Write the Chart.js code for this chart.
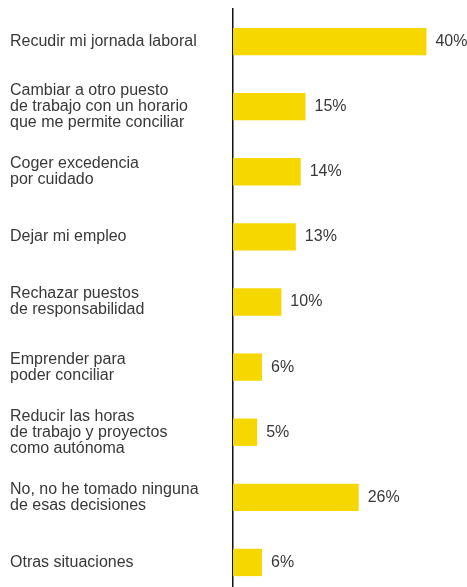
<!DOCTYPE html>
<html>
<head>
<meta charset="utf-8">
<script src="https://cdn.jsdelivr.net/npm/chart.js@4/dist/chart.umd.min.js"></script>
<style>
  html, body { margin: 0; padding: 0; background: #fff; overflow: hidden; }
  canvas { display: block; }
</style>
</head>
<body>
<canvas id="barChart" width="467" height="603"></canvas>
<script>
// Data
const categories = [
    ['Recudir mi jornada laboral'],
    ['Cambiar a otro puesto', 'de trabajo con un horario', 'que me permite conciliar'],
    ['Coger excedencia', 'por cuidado'],
    ['Dejar mi empleo'],
    ['Rechazar puestos', 'de responsabilidad'],
    ['Emprender para', 'poder conciliar'],
    ['Reducir las horas', 'de trabajo y proyectos', 'como autónoma'],
    ['No, no he tomado ninguna', 'de esas decisiones'],
    ['Otras situaciones']
];
const values = [40, 15, 14, 13, 10, 6, 5, 26, 6];

const textColor = '#383838';
const labelFont = { family: "'Liberation Sans', Arial, sans-serif", size: 16 };

// Value labels at the end of each bar
const valueLabels = {
    id: 'valueLabels',
    afterDatasetsDraw(chart) {
        const ctx = chart.ctx;
        const meta = chart.getDatasetMeta(0);
        ctx.save();
        ctx.fillStyle = textColor;
        ctx.font = labelFont.size + 'px ' + labelFont.family;
        ctx.textAlign = 'left';
        ctx.textBaseline = 'middle';
        meta.data.forEach((bar, i) => {
            ctx.fillText(values[i] + '%', bar.x + 9, bar.y);
        });
        ctx.restore();
    }
};

const ctx = document.getElementById('barChart').getContext('2d');
const barChart = new Chart(ctx, {
    type: 'bar',
    data: {
        labels: categories,
        datasets: [{
            data: values,
            backgroundColor: '#f6d800',
            categoryPercentage: 1,
            barPercentage: 0.42
        }]
    },
    options: {
        indexAxis: 'y',
        responsive: false,
        animation: false,
        devicePixelRatio: 1,
        layout: { padding: { left: 10, right: 14, top: 9, bottom: 0 } },
        plugins: {
            legend: { display: false },
            tooltip: { enabled: false }
        },
        scales: {
            x: {
                display: false,
                min: 0,
                max: 45.5
            },
            y: {
                grid: { display: false },
                border: { display: true, color: '#111', width: 1.5 },
                ticks: {
                    crossAlign: 'far',
                    color: textColor,
                    font: { ...labelFont, lineHeight: 1.0 },
                    padding: 0
                },
                afterFit(scale) { scale.width = 223; }
            }
        }
    },
    plugins: [valueLabels]
});
</script>
</body>
</html>
